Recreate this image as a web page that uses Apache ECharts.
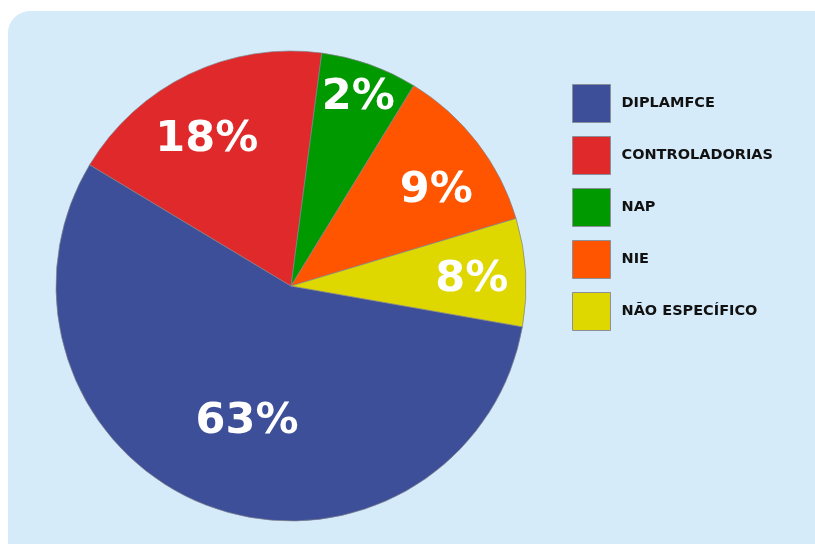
<!DOCTYPE html>
<html><head><meta charset="utf-8">
<script src="https://cdn.jsdelivr.net/npm/echarts@6/dist/echarts.min.js"></script>
<style>html,body{margin:0;padding:0;background:#fff}#c{width:815px;height:544px}</style>
</head><body><div id="c"></div>
<script>
// Categories and values (slice sizes)
const categories = ['DIPLAMFCE', 'CONTROLADORIAS', 'NAP', 'NIE', 'NÃO ESPECÍFICO'];
const values = [55.85, 18.47, 6.66, 11.61, 7.42];
const pctLabels = ['63%', '18%', '2%', '9%', '8%'];
const colors = ['#3c4f98', '#e0292b', '#009a00', '#ff5500', '#dfd800'];

// styling: label placement (fraction of radius, angle clockwise from 12 o'clock)
const labelFrac = [0.585, 0.712, 0.845, 0.732, 0.757];
const labelAng = [198.2, 330.3, 19.5, 56.2, 87.5];
const R = 235, CX = 291, CY = 286, startAngle = -10;

const total = values.reduce((a, b) => a + b, 0);
let acc = 0;
const data = categories.map((name, i) => {
  const mid = (startAngle - (acc + values[i] / 2) / total * 360) * Math.PI / 180;
  acc += values[i];
  const baseX = 0.5 * R * Math.cos(mid), baseY = -0.5 * R * Math.sin(mid);
  const a = labelAng[i] * Math.PI / 180;
  const tx = labelFrac[i] * R * Math.sin(a), ty = -labelFrac[i] * R * Math.cos(a);
  return {
    name, value: values[i],
    itemStyle: { color: colors[i] },
    label: { formatter: pctLabels[i], offset: [tx - baseX, ty - baseY + 2] }
  };
});

const chart = echarts.init(document.getElementById('c'));
chart.setOption({
  animation: false,
  graphic: [{
    type: 'rect', z: -10, silent: true,
    shape: { x: 8, y: 11, width: 830, height: 560, r: 22 },
    style: { fill: '#d5ebfa' }
  }],
  legend: {
    orient: 'vertical', left: 567, top: 79,
    itemWidth: 38, itemHeight: 38, itemGap: 13,
    icon: 'rect',
    itemStyle: { borderColor: '#8a8f99', borderWidth: 1 },
    textStyle: { fontFamily: 'DejaVu Sans', fontWeight: 'bold', fontSize: 14.5, color: '#111', padding: [0, 0, 0, 6] },
    data: categories
  },
  series: [{
    type: 'pie', radius: R, center: [CX, CY],
    startAngle: startAngle, clockwise: true,
    itemStyle: { borderColor: 'rgba(130,130,140,0.7)', borderWidth: 1 },
    label: {
      position: 'inside', color: '#fff',
      fontFamily: 'DejaVu Sans', fontWeight: 'bold', fontSize: 43
    },
    labelLine: { show: false },
    emphasis: { disabled: true },
    data: data
  }]
});
</script></body></html>
